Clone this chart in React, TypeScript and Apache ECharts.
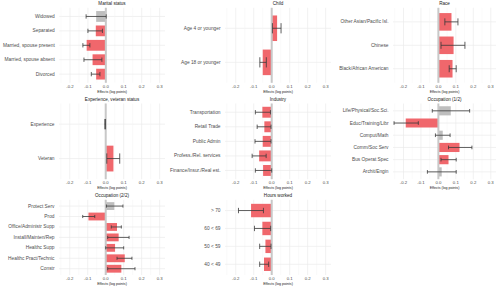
import React, { useEffect, useRef } from "react";
import * as echarts from "echarts";

// ---- data (top-to-bottom order as displayed) ----
const maritalCats = ["Widowed", "Separated", "Married, spouse present", "Married, spouse absent", "Divorced"];
const maritalEst = [-0.054, -0.056, -0.107, -0.074, -0.054];
const maritalLo = [-0.11, -0.1, -0.128, -0.122, -0.081];
const maritalHi = [0.002, -0.019, -0.089, -0.022, -0.033];
const maritalGrey = [true, false, false, false, false];

const childCats = ["Age 4 or younger", "Age 18 or younger"];
const childEst = [0.03, -0.05];
const childLo = [0.004, -0.066];
const childHi = [0.052, -0.03];
const childGrey = [false, false];

const raceCats = ["Other Asian/Pacific Isl.", "Chinese", "Black/African American"];
const raceEst = [0.075, 0.087, 0.081];
const raceLo = [0.037, 0.015, 0.062];
const raceHi = [0.112, 0.152, 0.102];
const raceGrey = [false, false, false];

const expCats = ["Experience", "Veteran"];
const expEst = [-0.003, 0.043];
const expLo = [-0.005, 0.006];
const expHi = [-0.001, 0.078];
const expGrey = [false, false];

const indCats = ["Transportation", "Retail Trade", "Public Admin", "Profess./Rel. services", "Finance/Insur./Real est."];
const indEst = [-0.052, -0.041, -0.05, -0.07, -0.048];
const indLo = [-0.091, -0.081, -0.093, -0.109, -0.091];
const indHi = [-0.007, -0.004, -0.004, -0.031, 0.0];
const indGrey = [false, false, false, false, false];

const occ1Cats = ["Life/Physical/Soc.Sci.", "Educ/Training/Libr", "Comput/Math", "Comm/Soc Serv", "Bus Operat Spec", "Archit/Engin"];
const occ1Est = [0.071, -0.187, 0.025, 0.121, 0.058, 0.019];
const occ1Lo = [-0.035, -0.254, -0.017, 0.058, 0.015, -0.063];
const occ1Hi = [0.179, -0.115, 0.067, 0.192, 0.102, 0.102];
const occ1Grey = [true, false, true, false, false, true];

const occ2Cats = ["Protect Serv", "Prod", "Office/Administr Supp", "Install/Mainten/Rep", "Healthc Supp", "Healthc Pract/Technic", "Constr"];
const occ2Est = [0.048, -0.096, 0.063, 0.072, 0.052, 0.106, 0.087];
const occ2Lo = [0.004, -0.128, 0.031, 0.011, 0.0, 0.063, 0.011];
const occ2Hi = [0.096, -0.061, 0.087, 0.13, 0.1, 0.146, 0.163];
const occ2Grey = [true, false, false, false, false, false, false];

const hoursCats = ["> 70", "60 < 69", "50 < 59", "40 < 49"];
const hoursEst = [-0.115, -0.052, -0.035, -0.043];
const hoursLo = [-0.185, -0.096, -0.067, -0.067];
const hoursHi = [-0.046, -0.006, -0.004, -0.017];
const hoursGrey = [false, false, false, false];

const gridValues = [-0.25, -0.2, -0.15, -0.1, -0.05, 0, 0.05, 0.1, 0.15, 0.2, 0.25, 0.3];

const panels = [
  { title: "Marital status", cats: maritalCats, est: maritalEst, lo: maritalLo, hi: maritalHi, grey: maritalGrey, col: 0, row: 0 },
  { title: "Child", cats: childCats, est: childEst, lo: childLo, hi: childHi, grey: childGrey, col: 1, row: 0 },
  { title: "Race", cats: raceCats, est: raceEst, lo: raceLo, hi: raceHi, grey: raceGrey, col: 2, row: 0 },
  { title: "Experience, veteran status", cats: expCats, est: expEst, lo: expLo, hi: expHi, grey: expGrey, col: 0, row: 1 },
  { title: "Industry", cats: indCats, est: indEst, lo: indLo, hi: indHi, grey: indGrey, col: 1, row: 1 },
  { title: "Occupation (1/2)", cats: occ1Cats, est: occ1Est, lo: occ1Lo, hi: occ1Hi, grey: occ1Grey, col: 2, row: 1 },
  { title: "Occupation (2/2)", cats: occ2Cats, est: occ2Est, lo: occ2Lo, hi: occ2Hi, grey: occ2Grey, col: 0, row: 2 },
  { title: "Hours worked", cats: hoursCats, est: hoursEst, lo: hoursLo, hi: hoursHi, grey: hoursGrey, col: 1, row: 2 },
];

const RED = "#F0676C";
const GREY = "#BEBEBE";
const FONT = "Liberation Sans, Arial, Helvetica, sans-serif";
const X_MIN = -0.26;
const X_MAX = 0.33;

const colLeft = [59, 225, 393];
const colWidth = [106, 106, 103];
const rowTop = [7.8, 103.5, 199.8];
const rowBottom = [82.8, 179.2, 275];

function buildOption() {
  const grid: any[] = [];
  const xAxis: any[] = [];
  const yAxis: any[] = [];
  const series: any[] = [];
  const graphic: any[] = [];

  panels.forEach((p, i) => {
    const n = p.cats.length;
    const T = rowTop[p.row];
    const B = rowBottom[p.row];
    const band = (B - T) / (n + 0.2);
    const top = T + 0.1 * band;
    const height = n * band;
    const left = colLeft[p.col];
    const width = colWidth[p.col];
    grid.push({ left, top, width, height, containLabel: false });

    xAxis.push({
      type: "value",
      gridIndex: i,
      min: X_MIN,
      max: X_MAX,
      interval: 0.01,
      splitLine: { show: false },
      axisLine: { show: false },
      axisTick: { show: false },
      axisLabel: {
        fontSize: 4.3,
        color: "#4D4D4D",
        fontFamily: FONT,
        margin: 1.6 + 0.1 * band,
        formatter: (v: number) => {
          const k = Math.round(v * 100);
          return k % 10 === 0 ? (k / 100).toFixed(1) : "";
        },
      },
      name: "Effects (log points)",
      nameLocation: "middle",
      nameGap: 6.9 + 0.1 * band,
      nameTextStyle: { fontSize: 3.6, color: "#1A1A1A", fontFamily: FONT },
    });

    yAxis.push({
      type: "category",
      gridIndex: i,
      data: p.cats,
      inverse: true,
      axisLine: { show: false },
      axisTick: { show: false },
      splitLine: { show: false },
      axisLabel: { fontSize: 4.8, color: "#4D4D4D", fontFamily: FONT, margin: 4.5, interval: 0 },
    });

    // background grid lines
    series.push({
      type: "custom",
      xAxisIndex: i,
      yAxisIndex: i,
      z: 1,
      silent: true,
      data: p.cats.map((_c, j) => [0, j]),
      encode: { x: 0, y: 1 },
      renderItem: (params: any, api: any) => {
        const idx = api.value(1);
        const cs = params.coordSys;
        const bw = api.size([0, 1])[1];
        const py = api.coord([0, idx])[1];
        const children: any[] = [
          {
            type: "line",
            shape: { x1: cs.x, y1: py, x2: cs.x + cs.width, y2: py },
            style: { stroke: "#EBEBEB", lineWidth: 0.7 },
          },
        ];
        if (idx === 0) {
          gridValues.forEach((g) => {
            const gx = api.coord([g, idx])[0];
            const major = Math.abs(Math.round(g * 100)) % 10 === 0;
            children.push({
              type: "line",
              shape: { x1: gx, y1: cs.y - 0.1 * bw, x2: gx, y2: cs.y + cs.height + 0.1 * bw },
              style: { stroke: major ? "#EBEBEB" : "#F4F4F4", lineWidth: major ? 0.7 : 0.5 },
            });
          });
        }
        return { type: "group", children };
      },
    });

    // bars
    series.push({
      type: "bar",
      xAxisIndex: i,
      yAxisIndex: i,
      z: 2,
      barWidth: "75%",
      silent: true,
      data: p.est.map((v, j) => ({ value: v, itemStyle: { color: p.grey[j] ? GREY : RED } })),
    });

    // zero line
    series.push({
      type: "custom",
      xAxisIndex: i,
      yAxisIndex: i,
      z: 3,
      silent: true,
      data: [[0, 0]],
      encode: { x: 0, y: 1 },
      renderItem: (params: any, api: any) => {
        const cs = params.coordSys;
        const bw = api.size([0, 1])[1];
        const zx = api.coord([0, 0])[0];
        return {
          type: "line",
          shape: { x1: zx, y1: cs.y - 0.1 * bw, x2: zx, y2: cs.y + cs.height + 0.1 * bw },
          style: { stroke: "#C8C8C8", lineWidth: 2 },
        };
      },
    });

    // error bars
    series.push({
      type: "custom",
      xAxisIndex: i,
      yAxisIndex: i,
      z: 4,
      silent: true,
      data: p.lo.map((l, j) => [l, p.hi[j], j]),
      encode: { x: [0, 1], y: 2 },
      renderItem: (_params: any, api: any) => {
        const idx = api.value(2);
        const a = api.coord([api.value(0), idx]);
        const b = api.coord([api.value(1), idx]);
        const bw = api.size([0, 1])[1];
        const h = bw * 0.15;
        const st = { stroke: "#3A3A3A", lineWidth: 0.8 };
        return {
          type: "group",
          children: [
            { type: "line", shape: { x1: a[0], y1: a[1], x2: b[0], y2: b[1] }, style: st },
            { type: "line", shape: { x1: a[0], y1: a[1] - h, x2: a[0], y2: a[1] + h }, style: st },
            { type: "line", shape: { x1: b[0], y1: b[1] - h, x2: b[0], y2: b[1] + h }, style: st },
          ],
        };
      },
    });

    graphic.push({
      type: "text",
      x: left + width / 2,
      y: T - 4,
      silent: true,
      style: {
        text: p.title,
        fontSize: 4.6,
        fontFamily: FONT,
        fill: "#1A1A1A",
        textAlign: "center",
        textVerticalAlign: "middle",
      },
    });
  });

  return {
    animation: false,
    backgroundColor: "#FFFFFF",
    textStyle: { fontFamily: FONT },
    grid,
    xAxis,
    yAxis,
    series,
    graphic,
  };
}

export default function App() {
  const ref = useRef<HTMLDivElement>(null);
  useEffect(() => {
    if (!ref.current) return;
    const chart = echarts.init(ref.current, undefined, { renderer: "svg" });
    chart.setOption(buildOption() as any);
    return () => chart.dispose();
  }, []);
  return <div ref={ref} style={{ position: "fixed", left: 0, top: 0, width: 500, height: 288 }} />;
}
